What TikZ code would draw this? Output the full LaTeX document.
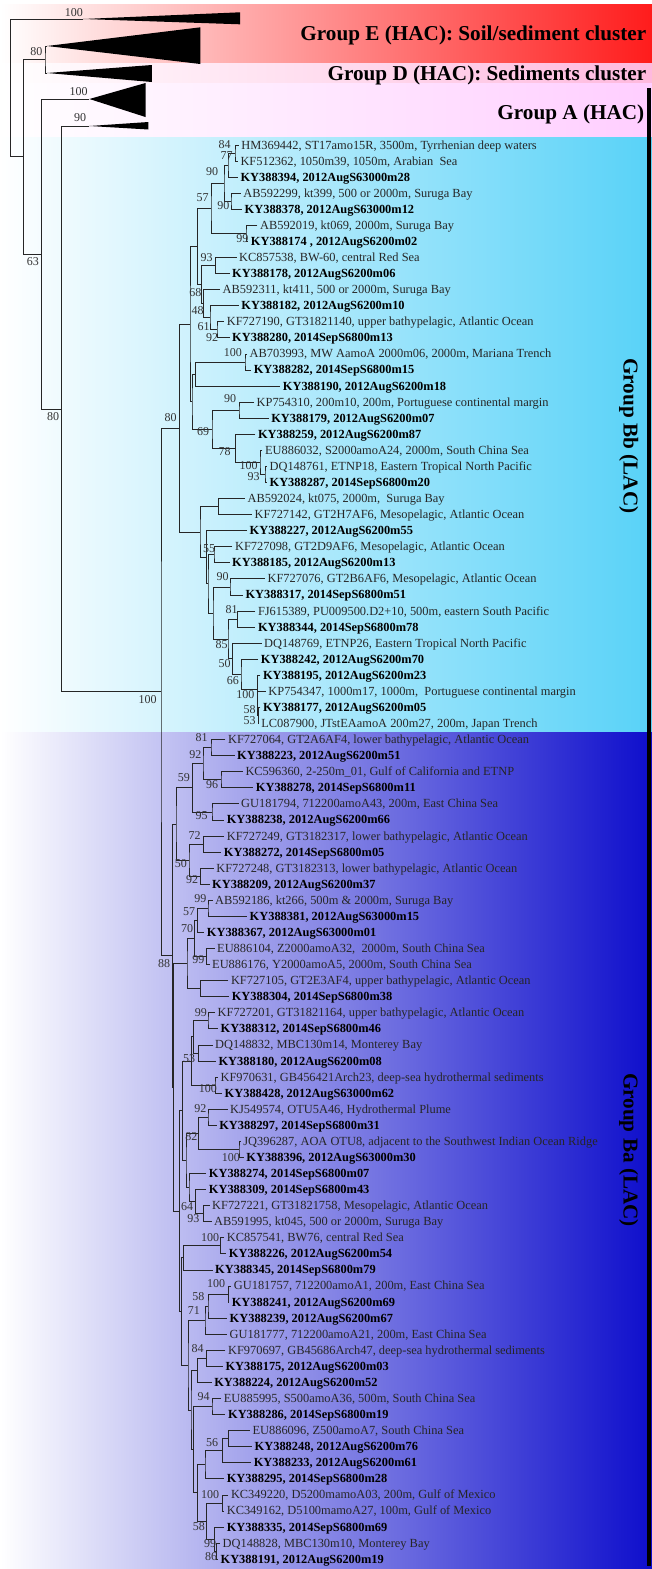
\documentclass[tikz,border=0pt]{standalone}
\usepackage{fontspec}
\setmainfont{Liberation Serif}
\usetikzlibrary{calc}
\definecolor{bandE}{RGB}{255,28,28}
\definecolor{bandD}{RGB}{255,185,222}
\definecolor{bandA}{RGB}{255,206,255}
\definecolor{bandBb}{RGB}{88,210,248}
\definecolor{baM}{RGB}{158,158,232}
\definecolor{baR}{RGB}{14,14,204}
\tikzset{
  br/.style={draw=black!85, line width=0.8pt},
  tri/.style={fill=black},
  leaftxt/.style={anchor=west, inner sep=0pt, font=\fontsize{12.4}{14}\selectfont, text=black!85, text height=8pt, text depth=0pt},
  leaftxtb/.style={anchor=west, inner sep=0pt, font=\fontsize{12.4}{14}\selectfont\bfseries, text=black, text height=8pt, text depth=0pt},
  bs/.style={inner sep=0pt, font=\fontsize{12}{13}\selectfont, text=black!80, text height=8pt, text depth=0pt},
  grp/.style={inner sep=0pt, font=\fontsize{21.2}{24}\selectfont\bfseries, text=black}
}
\newcount\bscnt
\newcommand\bsl[3]{\global\advance\bscnt by 1 \node[bs] (bs\the\bscnt) at (#1pt,-#2pt) {#3};}
\newcommand\lfn[3]{%
  \pgfmathsetmacro\lfY{-(145+(#1-1)*16.07)}%
  \pgfmathsetmacro\lfX{#2-2.5}%
  \coordinate (L#1) at (\lfX pt,\lfY pt);
  \node[leaftxt] (T#1) at (#2pt,\lfY pt) {#3};}
\newcommand\lfb[3]{%
  \pgfmathsetmacro\lfY{-(145+(#1-1)*16.07)}%
  \pgfmathsetmacro\lfX{#2-2.5}%
  \coordinate (L#1) at (\lfX pt,\lfY pt);
  \node[leaftxtb] (T#1) at (#2pt,\lfY pt) {#3};}
\newcommand\jn[4]{%
  \path let \p1=(#3), \p2=(#4) in coordinate (#1) at (#2pt,{(\y1+\y2)/2});
  \draw[br] (#3) -| (#1) |- (#4);}
\begin{document}
\begin{tikzpicture}
\useasboundingbox (0pt,0pt) rectangle (652pt,-1569pt);
\fill[white] (0pt,0pt) rectangle (652pt,-1569pt);
% bands
\fill[left color=white, right color=bandE] (0pt,-4pt) rectangle (652pt,-63pt);
\fill[left color=white, right color=bandD] (0pt,-63pt) rectangle (652pt,-83pt);
\fill[left color=white, right color=bandA] (0pt,-83pt) rectangle (652pt,-137pt);
\fill[left color=white, right color=bandBb] (0pt,-137pt) rectangle (652pt,-732pt);
\fill[left color=white, middle color=baM, right color=baR] (0pt,-732pt) rectangle (652pt,-1569pt);
\fill[black] (647pt,-88pt) rectangle (650.5pt,-1566pt);
% group labels
\node[grp, anchor=base east] (gE) at (646.5pt,-40.7pt) {Group E (HAC): Soil/sediment cluster};
\node[grp, anchor=base east] (gD) at (646.5pt,-80pt) {Group D (HAC): Sediments cluster};
\node[grp, anchor=base east] (gA) at (644.5pt,-119.3pt) {Group A (HAC)};
\node[grp, anchor=base, rotate=-90] (gBb) at (623.7pt,-436pt) {Group Bb (LAC)};
\node[grp, anchor=base, rotate=-90] (gBa) at (623.7pt,-1150pt) {Group Ba (LAC)};
% collapsed clades
\coordinate (tE1) at (83pt,-19pt);
\fill[tri] (tE1) -- (240pt,-12.3pt) -- (240pt,-24.3pt) -- cycle;
\coordinate (tE) at (47pt,-46pt);
\fill[tri] (tE) -- (200.4pt,-27.3pt) -- (200.4pt,-64pt) -- cycle;
\coordinate (tD) at (47pt,-73pt);
\fill[tri] (tD) -- (151.8pt,-65pt) -- (151.8pt,-82pt) -- cycle;
\coordinate (tA) at (89.4pt,-99pt);
\fill[tri] (tA) -- (145.5pt,-83pt) -- (145.5pt,-117pt) -- cycle;
\coordinate (tA2) at (89.4pt,-126pt);
\fill[tri] (tA2) -- (148.4pt,-122pt) -- (148.4pt,-129.5pt) -- cycle;
% leaves
\lfn{1}{241.2}{HM369442, ST17amo15R, 3500m, Tyrrhenian deep waters}
\lfn{2}{240.3}{KF512362, 1050m39, 1050m, Arabian\ \ Sea}
\lfb{3}{240.3}{KY388394, 2012AugS63000m28}
\lfn{4}{243.2}{AB592299, kt399, 500 or 2000m, Suruga Bay}
\lfb{5}{244.5}{KY388378, 2012AugS63000m12}
\lfn{6}{259.9}{AB592019, kt069, 2000m, Suruga Bay}
\lfb{7}{250.7}{KY388174 , 2012AugS6200m02}
\lfn{8}{239}{KC857538, BW-60, central Red Sea}
\lfb{9}{232}{KY388178, 2012AugS6200m06}
\lfn{10}{222.5}{AB592311, kt411, 500 or 2000m, Suruga Bay}
\lfb{11}{241.2}{KY388182, 2012AugS6200m10}
\lfn{12}{226.6}{KF727190, GT31821140, upper bathypelagic, Atlantic Ocean}
\lfb{13}{232}{KY388280, 2014SepS6800m13}
\lfn{14}{249.5}{AB703993, MW AamoA 2000m06, 2000m, Mariana Trench}
\lfb{15}{253.6}{KY388282, 2014SepS6800m15}
\lfb{16}{282.7}{KY388190, 2012AugS6200m18}
\lfn{17}{256.5}{KP754310, 200m10, 200m, Portuguese continental margin}
\lfb{18}{271.1}{KY388179, 2012AugS6200m07}
\lfb{19}{257.8}{KY388259, 2012AugS6200m87}
\lfn{20}{264.9}{EU886032, S2000amoA24, 2000m, South China Sea}
\lfn{21}{269.4}{DQ148761, ETNP18, Eastern Tropical North Pacific}
\lfb{22}{269.4}{KY388287, 2014SepS6800m20}
\lfn{23}{247.4}{AB592024, kt075, 2000m,\ \ Suruga Bay}
\lfn{24}{254.5}{KF727142, GT2H7AF6, Mesopelagic, Atlantic Ocean}
\lfb{25}{249.5}{KY388227, 2012AugS6200m55}
\lfn{26}{234.9}{KF727098, GT2D9AF6, Mesopelagic, Atlantic Ocean}
\lfb{27}{232}{KY388185, 2012AugS6200m13}
\lfn{28}{267.4}{KF727076, GT2B6AF6, Mesopelagic, Atlantic Ocean}
\lfb{29}{245.3}{KY388317, 2014SepS6800m51}
\lfn{30}{257.8}{FJ615389, PU009500.D2+10, 500m, eastern South Pacific}
\lfb{31}{257.8}{KY388344, 2014SepS6800m78}
\lfn{32}{264}{DQ148769, ETNP26, Eastern Tropical North Pacific}
\lfb{33}{260.7}{KY388242, 2012AugS6200m70}
\lfb{34}{262.8}{KY388195, 2012AugS6200m23}
\lfn{35}{268.2}{KP754347, 1000m17, 1000m,\ \ Portuguese continental margin}
\lfb{36}{262.8}{KY388177, 2012AugS6200m05}
\lfn{37}{261.1}{LC087900, JTstEAamoA 200m27, 200m, Japan Trench}
\lfn{38}{227.9}{KF727064, GT2A6AF4, lower bathypelagic, Atlantic Ocean}
\lfb{39}{237}{KY388223, 2012AugS6200m51}
\lfn{40}{245.3}{KC596360, 2-250m\_01, Gulf of California and ETNP}
\lfb{41}{255.7}{KY388278, 2014SepS6800m11}
\lfn{42}{241}{GU181794, 712200amoA43, 200m, East China Sea}
\lfb{43}{226.6}{KY388238, 2012AugS6200m66}
\lfn{44}{226.6}{KF727249, GT3182317, lower bathypelagic, Atlantic Ocean}
\lfb{45}{223.7}{KY388272, 2014SepS6800m05}
\lfn{46}{216.2}{KF727248, GT3182313, lower bathypelagic, Atlantic Ocean}
\lfb{47}{212}{KY388209, 2012AugS6200m37}
\lfn{48}{215}{AB592186, kt266, 500m \& 2000m, Suruga Bay}
\lfb{49}{249.5}{KY388381, 2012AugS63000m15}
\lfb{50}{206.7}{KY388367, 2012AugS63000m01}
\lfn{51}{217}{EU886104, Z2000amoA32,\ \ 2000m, South China Sea}
\lfn{52}{212}{EU886176, Y2000amoA5, 2000m, South China Sea}
\lfn{53}{230.8}{KF727105, GT2E3AF4, upper bathypelagic, Atlantic Ocean}
\lfb{54}{231.6}{KY388304, 2014SepS6800m38}
\lfn{55}{217.5}{KF727201, GT31821164, upper bathypelagic, Atlantic Ocean}
\lfb{56}{220.4}{KY388312, 2014SepS6800m46}
\lfn{57}{215}{DQ148832, MBC130m14, Monterey Bay}
\lfb{58}{218.3}{KY388180, 2012AugS6200m08}
\lfn{59}{220.4}{KF970631, GB456421Arch23, deep-sea hydrothermal sediments}
\lfb{60}{224.5}{KY388428, 2012AugS63000m62}
\lfn{61}{230}{KJ549574, OTU5A46, Hydrothermal Plume}
\lfb{62}{219.1}{KY388297, 2014SepS6800m31}
\lfn{63}{243.2}{JQ396287, AOA OTU8, adjacent to the Southwest Indian Ocean Ridge}
\lfb{64}{246.2}{KY388396, 2012AugS63000m30}
\lfb{65}{208.7}{KY388274, 2014SepS6800m07}
\lfb{66}{208.7}{KY388309, 2014SepS6800m43}
\lfn{67}{212}{KF727221, GT31821758, Mesopelagic, Atlantic Ocean}
\lfn{68}{214}{AB591995, kt045, 500 or 2000m, Suruga Bay}
\lfn{69}{226.6}{KC857541, BW76, central Red Sea}
\lfb{70}{228.7}{KY388226, 2012AugS6200m54}
\lfb{71}{215}{KY388345, 2014SepS6800m79}
\lfn{72}{233.7}{GU181757, 712200amoA1, 200m, East China Sea}
\lfb{73}{231.6}{KY388241, 2012AugS6200m69}
\lfb{74}{229.5}{KY388239, 2012AugS6200m67}
\lfn{75}{229.5}{GU181777, 712200amoA21, 200m, East China Sea}
\lfn{76}{227.9}{KF970697, GB45686Arch47, deep-sea hydrothermal sediments}
\lfb{77}{225.4}{KY388175, 2012AugS6200m03}
\lfb{78}{214.1}{KY388224, 2012AugS6200m52}
\lfn{79}{223.7}{EU885995, S500amoA36, 500m, South China Sea}
\lfb{80}{227.9}{KY388286, 2014SepS6800m19}
\lfn{81}{252.4}{EU886096, Z500amoA7, South China Sea}
\lfb{82}{254.5}{KY388248, 2012AugS6200m76}
\lfb{83}{253.6}{KY388233, 2012AugS6200m61}
\lfb{84}{226.6}{KY388295, 2014SepS6800m28}
\lfn{85}{230.8}{KC349220, D5200mamoA03, 200m, Gulf of Mexico}
\lfn{86}{226.6}{KC349162, D5100mamoA27, 100m, Gulf of Mexico}
\lfb{87}{226.6}{KY388335, 2014SepS6800m69}
\lfn{88}{222.5}{DQ148828, MBC130m10, Monterey Bay}
\lfb{89}{220.4}{KY388191, 2012AugS6200m19}
% Group Bb internal nodes
\jn{A1}{235}{L1}{L2}
\jn{A2}{228}{A1}{L3}
\jn{A3}{231}{L4}{L5}
\jn{A4}{224}{A2}{A3}
\jn{A5}{246}{L6}{L7}
\jn{A6}{211}{A4}{A5}
\jn{A7}{215.4}{L8}{L9}
\jn{A8}{217}{L12}{L13}
\jn{A9}{210}{L11}{A8}
\jn{A10}{203.7}{L10}{A9}
\jn{A11}{201.7}{A7}{A10}
\jn{Yb}{197.5}{A6}{A11}
\jn{n100a}{245}{L14}{L15}
\jn{Wb}{195.4}{n100a}{L16}
\jn{n90c}{239}{L17}{L18}
\jn{n93b}{265}{L21}{L22}
\jn{n100b}{260}{L20}{n93b}
\jn{n78}{235.8}{L19}{n100b}
\jn{n69}{212}{n90c}{n78}
\jn{Vb}{192}{Wb}{n69}
\jn{Ub}{190}{Yb}{Vb}
\jn{n2324}{218.3}{L23}{L24}
\jn{n2627}{214}{L26}{L27}
\jn{n90f}{230}{L28}{L29}
\jn{n81b}{237.8}{L30}{L31}
\jn{m1}{258.3}{L36}{L37}
\jn{m2}{257.8}{L35}{m1}
\jn{m3}{257.2}{L34}{m2}
\jn{n66}{241}{L33}{m3}
\jn{n50b}{232.8}{L32}{n66}
\jn{n85}{228}{n81b}{n50b}
\jn{Yp}{213}{n90f}{n85}
\jn{Xb}{208}{n2627}{Yp}
\jn{Sp}{206.7}{L25}{Xb}
\jn{Sb}{200}{n2324}{Sp}
\jn{Tb}{179.6}{Ub}{Sb}
% Group Ba internal nodes
\jn{n81}{211}{L38}{L39}
\jn{n96}{221}{L40}{L41}
\jn{n92c}{203}{n81}{n96}
\jn{n95}{212}{L42}{L43}
\jn{n59}{192.5}{n92c}{n95}
\jn{n72}{203.7}{L44}{L45}
\jn{n92d}{200.8}{L46}{L47}
\jn{n50}{189}{n72}{n92d}
\jn{K1}{176}{n59}{n50}
\jn{n99d}{208}{L48}{L49}
\jn{n57b}{197.5}{n99d}{L50}
\jn{n99e}{206.7}{L51}{L52}
\jn{n70}{194.6}{n57b}{n99e}
\jn{n5354}{200.8}{L53}{L54}
\jn{Lb1}{187}{n70}{n5354}
\jn{n99g}{208}{L55}{L56}
\jn{n5758}{198.8}{L57}{L58}
\jn{n53}{193.3}{n99g}{n5758}
\jn{n100j}{215}{L59}{L60}
\jn{J1}{191.3}{n53}{n100j}
\jn{n92e}{208}{L61}{L62}
\jn{n100k}{239}{L63}{L64}
\jn{n82}{198.8}{n92e}{n100k}
\jn{n93c}{203.7}{L67}{L68}
\jn{n64}{195.4}{L66}{n93c}
\jn{J3}{189}{L65}{n64}
\jn{J2}{186}{n82}{J3}
\jn{P3a}{182.5}{J1}{J2}
\jn{n100i}{220.4}{L69}{L70}
\jn{H1}{183.8}{n100i}{L71}
\jn{n100h}{227.9}{L72}{L73}
\jn{n58b}{208}{n100h}{L74}
\jn{n71}{205}{n58b}{L75}
\jn{n84b}{206.7}{L76}{L77}
\jn{G1}{197.5}{n84b}{L78}
\jn{n94}{212}{L79}{L80}
\jn{n8182}{227.9}{L81}{L82}
\jn{n56}{222.5}{n8182}{L83}
\jn{G4}{205}{n56}{L84}
\jn{n100g}{222.5}{L85}{L86}
\jn{n86}{216.5}{L88}{L89}
\jn{n99f}{214.5}{L87}{n86}
\jn{n58}{206.7}{n100g}{n99f}
\jn{G3}{197.5}{G4}{n58}
\jn{G2}{193.3}{n94}{G3}
\jn{P5}{191}{G1}{G2}
\jn{P4}{188}{n71}{P5}
\jn{P3b}{181.5}{H1}{P4}
\jn{P3}{179.6}{P3a}{P3b}
\jn{P2}{173.8}{Lb1}{P3}
\jn{P}{172.5}{K1}{P2}
% backbone
\jn{Q}{161}{Tb}{P}
\jn{ED}{45}{tE}{tD}
\jn{O}{61.5}{tA2}{Q}
\jn{N}{41.6}{tA}{O}
\jn{M}{22.9}{ED}{N}
\jn{R0}{10.4}{tE1}{M}
% bootstrap labels
\bsl{73.8}{12.3}{100}
\bsl{36.4}{51.7}{80}
\bsl{78.6}{91.7}{100}
\bsl{80}{117.3}{90}
\bsl{33}{261.7}{63}
\bsl{53}{416.7}{80}
\bsl{170.5}{417.3}{80}
\bsl{147.6}{699}{100}
\bsl{224.5}{144}{84}
\bsl{226.6}{155}{77}
\bsl{212}{171.7}{90}
\bsl{223.3}{205}{90}
\bsl{202.5}{197.7}{57}
\bsl{242.4}{238.3}{99}
\bsl{206.7}{257.7}{93}
\bsl{195.4}{292.3}{68}
\bsl{197.5}{310}{48}
\bsl{203.7}{326}{61}
\bsl{212}{337.7}{92}
\bsl{232.8}{352.3}{100}
\bsl{230}{398.3}{90}
\bsl{203}{431.7}{69}
\bsl{224.5}{451}{78}
\bsl{248.6}{465}{100}
\bsl{253.6}{476.7}{93}
\bsl{209}{548.3}{55}
\bsl{222.5}{576.7}{90}
\bsl{231.6}{609}{81}
\bsl{221.6}{644}{85}
\bsl{224.5}{663.3}{50}
\bsl{232.8}{680}{66}
\bsl{245.3}{694.3}{100}
\bsl{249.5}{709}{58}
\bsl{249.5}{720}{53}
\bsl{201.7}{737.3}{81}
\bsl{195.4}{754}{92}
\bsl{183.8}{777.7}{59}
\bsl{212}{784.3}{96}
\bsl{201.7}{815.7}{95}
\bsl{194.6}{835}{72}
\bsl{180.9}{863.3}{50}
\bsl{192.1}{879}{92}
\bsl{200.4}{898.3}{99}
\bsl{189.2}{911}{57}
\bsl{187.1}{928.3}{70}
\bsl{198.3}{959.3}{99}
\bsl{164.2}{963.3}{88}
\bsl{200.8}{1012.3}{99}
\bsl{189.2}{1058.3}{53}
\bsl{207.9}{1088.3}{100}
\bsl{200.4}{1108.3}{92}
\bsl{191.3}{1136.7}{82}
\bsl{230.8}{1157.3}{100}
\bsl{187.1}{1206}{64}
\bsl{193.3}{1218.3}{93}
\bsl{210}{1237.3}{100}
\bsl{216.2}{1283.3}{100}
\bsl{198.3}{1296}{58}
\bsl{193.8}{1310}{71}
\bsl{197.5}{1348.3}{84}
\bsl{203.7}{1396}{94}
\bsl{212}{1442.3}{56}
\bsl{210}{1494.3}{100}
\bsl{198.8}{1526.7}{58}
\bsl{210}{1543.3}{99}
\bsl{211.2}{1556.7}{86}
\end{tikzpicture}
\end{document}
